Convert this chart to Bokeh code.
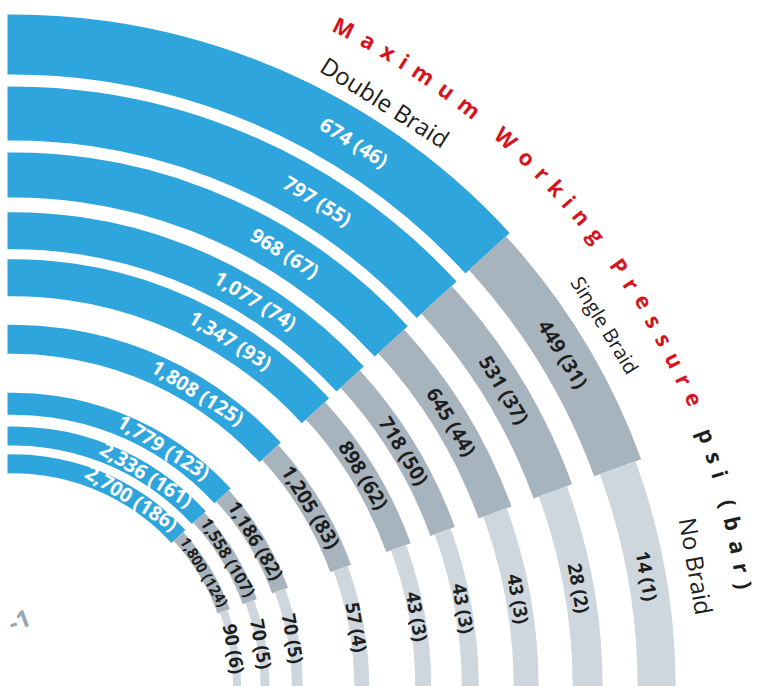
import math
from bokeh.plotting import figure
from bokeh.models import Range1d, ColumnDataSource
from bokeh.embed import file_html
from bokeh.resources import INLINE
from bokeh.core.properties import value

# ---------------- data ----------------
series = ["Double Braid", "Single Braid", "No Braid"]
double_psi = [674, 797, 968, 1077, 1347, 1808, 1779, 2336, 2700]
double_bar = [46, 55, 67, 74, 93, 125, 123, 161, 186]
single_psi = [449, 531, 645, 718, 898, 1205, 1186, 1558, 1800]
single_bar = [31, 37, 44, 50, 62, 83, 82, 107, 124]
none_psi = [14, 28, 43, 43, 43, 57, 70, 70, 90]
none_bar = [1, 2, 3, 3, 3, 4, 5, 5, 6]
title_main = "Maximum Working Pressure"
title_unit = "psi (bar)"
size_fragment = "-1"

# ---------------- geometry / style ----------------
ring_radius = [643.3, 574.3, 512.8, 457.0, 410.0, 348.5, 284.0, 251.8, 224.0]
blue_thick = [60, 54, 45, 37, 37, 29, 22, 19, 19]
dark_thick = [50, 41, 35, 26, 26, 22, 17, 15, 13]
light_thick = [38, 30, 25, 17, 16, 15, 11, 9, 8]
bounds_deg = [95.0, 42.5, 20.0, -6.0]
label_deg = [58.0, 31.25, 10.0]
colors = ["#2EA6DD", "#A8B4BD", "#CFD7DE"]
text_colors = ["#FFFFFF", "#1E1E1E", "#1E1E1E"]
RED = "#D7141E"
DARK = "#1E1E1E"
FONT = "Open Sans"

W, H = 761, 686
LEFT = 7
CX, CY = 12.7, -1.3

p = figure(width=W, height=H, x_range=Range1d(LEFT, W), y_range=Range1d(0, H),
           output_backend="svg", toolbar_location=None,
           min_border_left=LEFT, min_border_right=0, min_border_top=0,
           min_border_bottom=0)
p.axis.visible = False
p.grid.visible = False
p.outline_line_color = None


def fmt(psi, bar):
    return f"{psi:,} ({bar})"


psi_sets = [double_psi, single_psi, none_psi]
bar_sets = [double_bar, single_bar, none_bar]
thick_sets = [blue_thick, dark_thick, light_thick]

for k in range(3):
    inner = [r - t / 2 for r, t in zip(ring_radius, thick_sets[k])]
    outer = [r + t / 2 for r, t in zip(ring_radius, thick_sets[k])]
    src = ColumnDataSource(dict(inner=inner, outer=outer))
    p.annular_wedge(x=CX, y=CY, inner_radius="inner", outer_radius="outer",
                    start_angle=math.radians(bounds_deg[k + 1]),
                    end_angle=math.radians(bounds_deg[k]),
                    direction="anticlock", fill_color=colors[k],
                    line_color=None, source=src)

# value labels
for k in range(3):
    th = math.radians(label_deg[k])
    xs = [CX + r * math.cos(th) for r in ring_radius]
    ys = [CY + r * math.sin(th) for r in ring_radius]
    txt = [fmt(a, b) for a, b in zip(psi_sets[k], bar_sets[k])]
    if k == 0:
        fs = ["20px"] * len(txt)
    elif k == 1:
        fs = [f"{min(20, t + 2)}px" for t in dark_thick]
    else:
        fs = ["19px"] * len(txt)
    src = ColumnDataSource(dict(x=xs, y=ys, text=txt, fs=fs,
                                angle=[th - math.pi / 2] * len(txt)))
    p.text(x="x", y="y", text="text", angle="angle", source=src,
           text_align="center", text_baseline="middle",
           text_font=value(FONT), text_font_style="bold",
           text_font_size="fs", text_color=text_colors[k])

# series labels
r_series = 694
series_deg = [57.6, 31.5, 10.1]
series_fs = ["24px", "20px", "24px"]
for k in range(3):
    th = math.radians(series_deg[k])
    p.text(x=[CX + r_series * math.cos(th)], y=[CY + r_series * math.sin(th)],
           text=[series[k]], angle=th - math.pi / 2,
           text_align="center", text_baseline="middle",
           text_font=value(FONT), text_font_size=series_fs[k],
           text_color=DARK)

# curved title
em = {'M': .89, 'a': .56, 'x': .52, 'i': .25, 'm': .86, 'u': .61, ' ': .26,
      'W': .93, 'o': .60, 'r': .41, 'k': .51, 'n': .61, 'g': .54, 'P': .58,
      'e': .56, 's': .48, 'p': .61, '(': .30, 'b': .61, ')': .30}
full = title_main + " " + title_unit
R_T, F_L, SP = 739.0, 28.0, 7.7
theta = math.radians(63.4)
cx_, cy_, ct, cc, ca = [], [], [], [], []
for i, ch in enumerate(full):
    if i > 0:
        adv = (em[full[i - 1]] + em[ch]) / 2 * F_L + SP
        theta -= adv / R_T
    if ch == " ":
        continue
    cx_.append(CX + R_T * math.cos(theta))
    cy_.append(CY + R_T * math.sin(theta))
    ct.append(ch)
    ca.append(theta - math.pi / 2)
    cc.append(RED if i < len(title_main) else DARK)
src = ColumnDataSource(dict(x=cx_, y=cy_, text=ct, angle=ca, color=cc))
p.text(x="x", y="y", text="text", angle="angle", text_color="color", source=src,
       text_align="center", text_baseline="middle",
       text_font=value(FONT), text_font_style="bold", text_font_size="22px")

# clipped size-label fragment at the left edge
p.text(x=[19], y=[66], text=[size_fragment], angle=math.radians(20),
       text_align="center", text_baseline="middle", text_font=value(FONT),
       text_font_style="bold", text_font_size="24px", text_color="#97A6B0")

open("out.html", "w").write(file_html(p, INLINE))
